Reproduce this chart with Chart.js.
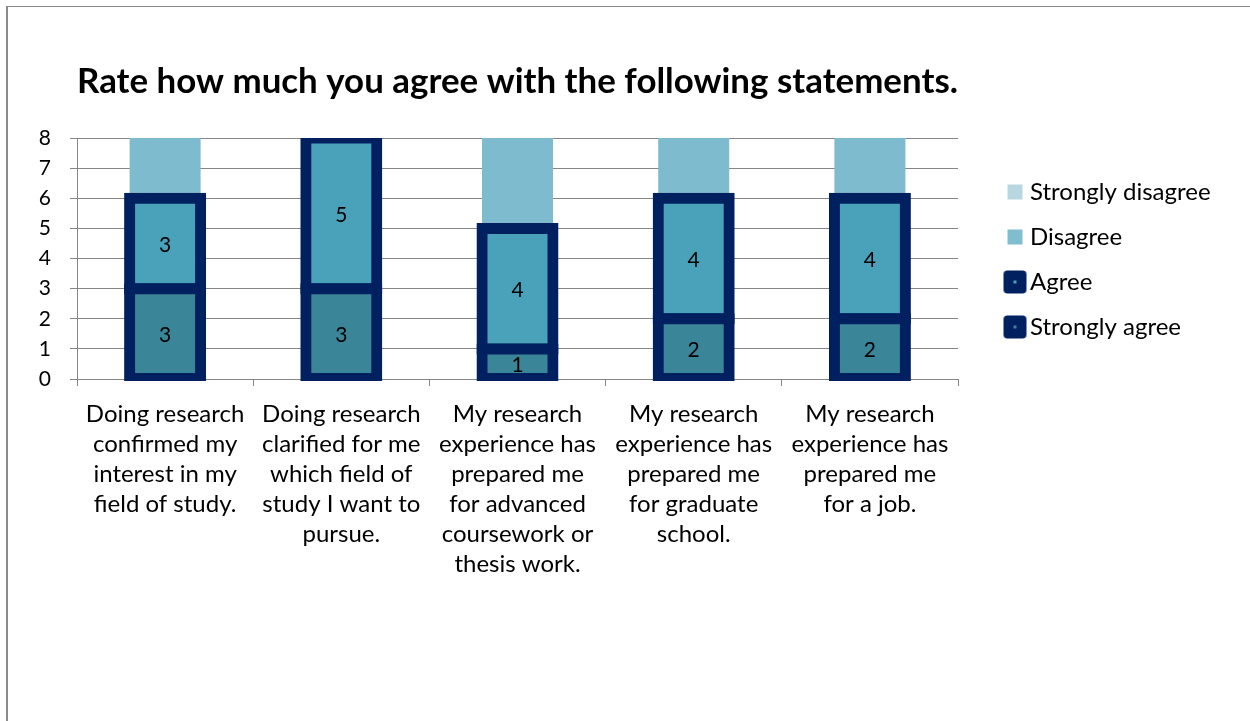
<!DOCTYPE html>
<html>
<head>
<meta charset="utf-8">
<script src="https://cdn.jsdelivr.net/npm/chart.js@4.4.1/dist/chart.umd.min.js"></script>
<style>
  html, body { margin: 0; padding: 0; background: #ffffff; }
  #wrap { position: relative; width: 1250px; height: 721px; overflow: hidden; }
  #frame { position: absolute; left: 6px; top: 6px; width: 1400px; height: 900px;
           border-left: 2px solid #8a8a8a; border-top: 1px solid #8a8a8a; }
  canvas { position: absolute; left: 0; top: 0; }
</style>
</head>
<body>
<div id="wrap">
  <div id="frame"></div>
  <canvas id="chart" width="1250" height="721"></canvas>
</div>
<script>
// ---------------- data ----------------
const titleText = 'Rate how much you agree with the following statements.';
const categories = [
  ['Doing research', 'confirmed my', 'interest in my', 'field of study.'],
  ['Doing research', 'clarified for me', 'which field of', 'study I want to', 'pursue.'],
  ['My research', 'experience has', 'prepared me', 'for advanced', 'coursework or', 'thesis work.'],
  ['My research', 'experience has', 'prepared me', 'for graduate', 'school.'],
  ['My research', 'experience has', 'prepared me', 'for a job.']
];
const seriesNames = ['Strongly agree', 'Agree', 'Disagree', 'Strongly disagree'];
const stronglyAgree    = [3, 3, 1, 2, 2];
const agree            = [3, 5, 4, 4, 4];
const disagree         = [2, 0, 3, 2, 2];
const stronglyDisagree = [0, 0, 0, 0, 0];
const yMin = 0, yMax = 8, yStep = 1;

// ---------------- style ----------------
const FONT = 'Lato';
const NAVY = '#002060';
const GRID = '#868686';
const PLOT_RIGHT = 958;
const LEG_FONT = 24, LEG_PAD = 21, PSW = 39;
const MARK_X = 1015;
const ICON_W = 64, ICON_H = 28;
const markOffset = MARK_X - (PLOT_RIGHT + LEG_PAD + PSW / 2);

function squareIcon(color) {
  const c = document.createElement('canvas');
  c.width = ICON_W; c.height = ICON_H;
  const g = c.getContext('2d');
  const cx = ICON_W / 2 + markOffset, cy = ICON_H / 2;
  g.fillStyle = color;
  g.fillRect(cx - 7.5, cy - 7.5, 15, 15);
  return c;
}
function navyIcon(innerColor) {
  const c = document.createElement('canvas');
  c.width = ICON_W; c.height = ICON_H;
  const g = c.getContext('2d');
  const cx = ICON_W / 2 + markOffset, cy = ICON_H / 2;
  g.fillStyle = NAVY;
  g.beginPath();
  g.roundRect(cx - 11.5, cy - 11.5, 23, 23, 4);
  g.fill();
  g.fillStyle = innerColor;
  g.fillRect(cx - 1.5, cy - 1.5, 3, 3);
  return c;
}

// legend width -> right padding so the plot ends where the reference does
const mctx = document.createElement('canvas').getContext('2d');
mctx.font = LEG_FONT + 'px ' + FONT;
const tw = Math.max(...seriesNames.map(t => mctx.measureText(t).width));
const legendWidth = LEG_PAD + PSW + LEG_FONT / 2 + tw + 10;
const padRight = Math.max(0, 1250 - PLOT_RIGHT - legendWidth);

const clipBox = { left: 20, right: 20, top: 0, bottom: 2 };

const valueLabels = {
  id: 'valueLabels',
  afterDatasetsDraw(chart) {
    const ctx = chart.ctx;
    ctx.save();
    ctx.font = '21px ' + FONT;
    ctx.fillStyle = '#000';
    ctx.textAlign = 'center';
    ctx.textBaseline = 'middle';
    chart.data.datasets.forEach((ds, i) => {
      if (!ds.showValues) return;
      const meta = chart.getDatasetMeta(i);
      meta.data.forEach((bar, j) => {
        const v = ds.data[j];
        if (!v) return;
        const p = bar.getProps(['x', 'y', 'base'], true);
        ctx.fillText(String(v), p.x, (p.y + p.base) / 2 + 2);
      });
    });
    ctx.restore();
  }
};

new Chart(document.getElementById('chart'), {
  type: 'bar',
  data: {
    labels: categories,
    datasets: [
      { label: seriesNames[0], data: stronglyAgree, backgroundColor: '#3B8599',
        borderColor: NAVY, borderWidth: 11, inflateAmount: 5.5, borderSkipped: false,
        showValues: true, legendImage: navyIcon('#3B8599'), clip: clipBox },
      { label: seriesNames[1], data: agree, backgroundColor: '#4AA2BA',
        borderColor: NAVY, borderWidth: 11, inflateAmount: 5.5, borderSkipped: false,
        showValues: true, legendImage: navyIcon('#4AA2BA'), clip: clipBox },
      { label: seriesNames[2], data: disagree, backgroundColor: '#7FBBCF',
        borderWidth: 0, inflateAmount: 0, legendImage: squareIcon('#7FBDCF'), clip: clipBox },
      { label: seriesNames[3], data: stronglyDisagree, backgroundColor: '#B7D7E2',
        borderWidth: 0, inflateAmount: 0, legendImage: squareIcon('#B7D7E2'), clip: clipBox }
    ]
  },
  options: {
    responsive: false,
    animation: false,
    layout: { padding: { left: 0, top: 0, bottom: 0, right: padRight } },
    datasets: { bar: { categoryPercentage: 1.0, barPercentage: 0.403 } },
    plugins: {
      tooltip: { enabled: false },
      title: {
        display: true, text: titleText, fullSize: false, align: 'center', color: '#000',
        font: { family: FONT, size: 35, weight: 'bold', lineHeight: 1.2 },
        padding: { top: 61, bottom: 35 }
      },
      legend: {
        display: true, position: 'right', align: 'start', reverse: true,
        title: { display: true, text: '', font: { size: 10, lineHeight: 1.2 }, padding: { top: 147, bottom: 0 } },
        labels: {
          usePointStyle: true, pointStyleWidth: PSW, padding: LEG_PAD, color: '#000',
          font: { family: FONT, size: LEG_FONT },
          generateLabels(chart) {
            return chart.data.datasets.map((ds, i) => ({
              text: ds.label, pointStyle: ds.legendImage, fillStyle: 'rgba(0,0,0,0)',
              strokeStyle: 'rgba(0,0,0,0)', lineWidth: 0, fontColor: '#000',
              hidden: !chart.isDatasetVisible(i), datasetIndex: i
            }));
          }
        }
      }
    },
    scales: {
      x: {
        stacked: true,
        offset: true,
        grid: { display: true, drawOnChartArea: false, drawTicks: true, tickLength: 7, color: GRID, offset: true },
        border: { display: true, color: GRID, width: 1 },
        ticks: { color: '#000', font: { family: FONT, size: 24, lineHeight: 1.25 }, padding: 13,
                 maxRotation: 0, minRotation: 0, autoSkip: false },
        afterFit(s) { s.height = 721 - 379; }
      },
      y: {
        stacked: true, min: yMin, max: yMax,
        grid: { color: GRID, tickLength: 7, drawTicks: true },
        border: { display: true, color: GRID, width: 1 },
        ticks: { stepSize: yStep, color: '#000', font: { family: FONT, size: 21 }, padding: 19 },
        afterFit(s) { s.width = 77; }
      }
    }
  },
  plugins: [valueLabels]
});
</script>
</body>
</html>
